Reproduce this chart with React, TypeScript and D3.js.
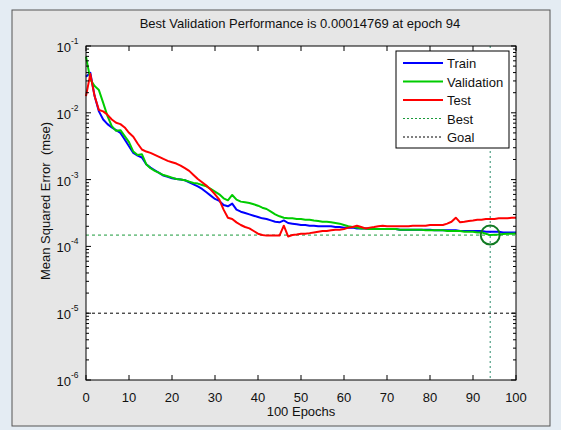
import React from "react";
import * as d3 from "d3";

const epochs: number[] = Array.from({ length: 101 }, (_, i) => i);

const trainMse: number[] = [
  3.47e-2, 3.98e-2, 1.78e-2, 1.05e-2, 7.94e-3, 6.76e-3, 6.03e-3, 5.5e-3, 5.01e-3, 3.98e-3,
  3.16e-3, 2.51e-3, 2.29e-3, 2.14e-3, 1.7e-3, 1.51e-3, 1.38e-3, 1.26e-3, 1.15e-3, 1.1e-3,
  1.05e-3, 1.02e-3, 1.0e-3, 9.77e-4, 9.12e-4, 8.51e-4, 7.94e-4, 7.24e-4, 6.46e-4, 5.75e-4,
  5.13e-4, 4.79e-4, 4.17e-4, 3.98e-4, 4.37e-4, 3.55e-4, 3.31e-4, 3.16e-4, 3.02e-4, 2.88e-4,
  2.75e-4, 2.63e-4, 2.57e-4, 2.45e-4, 2.34e-4, 2.29e-4, 2.45e-4, 2.24e-4, 2.19e-4, 2.14e-4,
  2.09e-4, 2.09e-4, 2.04e-4, 2.04e-4, 2.0e-4, 2.0e-4, 2.0e-4, 2.0e-4, 1.95e-4, 1.95e-4,
  1.91e-4, 1.91e-4, 1.91e-4, 1.86e-4, 1.86e-4, 1.86e-4, 1.82e-4, 1.82e-4, 1.82e-4, 1.82e-4,
  1.82e-4, 1.82e-4, 1.82e-4, 1.78e-4, 1.78e-4, 1.78e-4, 1.78e-4, 1.78e-4, 1.78e-4, 1.78e-4,
  1.78e-4, 1.74e-4, 1.74e-4, 1.74e-4, 1.74e-4, 1.74e-4, 1.74e-4, 1.7e-4, 1.7e-4, 1.7e-4,
  1.7e-4, 1.7e-4, 1.7e-4, 1.66e-4, 1.66e-4, 1.66e-4, 1.66e-4, 1.62e-4, 1.62e-4, 1.62e-4,
  1.62e-4,
];

const validationMse: number[] = [
  6.92e-2, 3.16e-2, 2.51e-2, 2.19e-2, 1.41e-2, 8.91e-3, 6.31e-3, 5.37e-3, 5.5e-3, 4.47e-3,
  3.63e-3, 2.63e-3, 2.34e-3, 2.4e-3, 1.7e-3, 1.48e-3, 1.35e-3, 1.26e-3, 1.17e-3, 1.12e-3,
  1.07e-3, 1.02e-3, 1.0e-3, 9.77e-4, 9.33e-4, 8.91e-4, 8.71e-4, 8.32e-4, 7.94e-4, 7.24e-4,
  6.61e-4, 6.03e-4, 5.25e-4, 4.9e-4, 5.89e-4, 5.01e-4, 4.68e-4, 4.57e-4, 4.47e-4, 4.27e-4,
  4.07e-4, 3.8e-4, 3.63e-4, 3.31e-4, 3.02e-4, 2.82e-4, 2.69e-4, 2.63e-4, 2.63e-4, 2.57e-4,
  2.57e-4, 2.51e-4, 2.51e-4, 2.45e-4, 2.4e-4, 2.34e-4, 2.34e-4, 2.29e-4, 2.24e-4, 2.19e-4,
  2.09e-4, 2.0e-4, 1.95e-4, 1.91e-4, 1.86e-4, 1.86e-4, 1.82e-4, 1.82e-4, 1.82e-4, 1.82e-4,
  1.82e-4, 1.82e-4, 1.82e-4, 1.78e-4, 1.78e-4, 1.78e-4, 1.78e-4, 1.78e-4, 1.78e-4, 1.74e-4,
  1.74e-4, 1.74e-4, 1.74e-4, 1.74e-4, 1.7e-4, 1.7e-4, 1.7e-4, 1.7e-4, 1.66e-4, 1.66e-4,
  1.66e-4, 1.62e-4, 1.62e-4, 1.55e-4, 1.4769e-4, 1.5e-4, 1.51e-4, 1.53e-4, 1.54e-4, 1.55e-4,
  1.56e-4,
];

const testMse: number[] = [
  1.78e-2, 3.8e-2, 1.78e-2, 1.1e-2, 1.05e-2, 9.33e-3, 7.94e-3, 7.08e-3, 6.76e-3, 6.03e-3,
  5.01e-3, 4.37e-3, 3.47e-3, 2.82e-3, 2.63e-3, 2.51e-3, 2.34e-3, 2.19e-3, 2.04e-3, 1.91e-3,
  1.82e-3, 1.74e-3, 1.62e-3, 1.48e-3, 1.35e-3, 1.17e-3, 1.02e-3, 9.12e-4, 8.13e-4, 7.08e-4,
  6.03e-4, 5.01e-4, 3.55e-4, 2.69e-4, 2.57e-4, 2.29e-4, 2.09e-4, 1.95e-4, 1.86e-4, 1.7e-4,
  1.55e-4, 1.48e-4, 1.45e-4, 1.45e-4, 1.45e-4, 1.45e-4, 2.04e-4, 1.41e-4, 1.48e-4, 1.51e-4,
  1.55e-4, 1.55e-4, 1.58e-4, 1.62e-4, 1.66e-4, 1.7e-4, 1.7e-4, 1.74e-4, 1.78e-4, 1.78e-4,
  1.82e-4, 1.91e-4, 1.95e-4, 2.04e-4, 1.95e-4, 1.86e-4, 1.91e-4, 1.95e-4, 2.0e-4, 2.04e-4,
  2.0e-4, 2.0e-4, 2.0e-4, 2.0e-4, 2.0e-4, 2.0e-4, 2.04e-4, 2.04e-4, 2.04e-4, 2.04e-4,
  2.09e-4, 2.09e-4, 2.09e-4, 2.09e-4, 2.19e-4, 2.34e-4, 2.69e-4, 2.29e-4, 2.34e-4, 2.4e-4,
  2.45e-4, 2.51e-4, 2.51e-4, 2.57e-4, 2.57e-4, 2.57e-4, 2.63e-4, 2.63e-4, 2.63e-4, 2.69e-4,
  2.69e-4,
];

const bestEpoch = 94;
const bestPerf = 1.4769e-4;
const goalPerf = 1e-5;
const xTicks: number[] = [0, 10, 20, 30, 40, 50, 60, 70, 80, 90, 100];
const yExponents: number[] = [-1, -2, -3, -4, -5, -6];
const titleText = "Best Validation Performance is 0.00014769 at epoch 94";
const xLabel = "100 Epochs";
const yLabel = "Mean Squared Error  (mse)";
const legendItems = [
  { name: "Train", color: "#0000ff", dash: "" },
  { name: "Validation", color: "#00cc00", dash: "" },
  { name: "Test", color: "#ff0000", dash: "" },
  { name: "Best", color: "#1a9a3a", dash: "2,2" },
  { name: "Goal", color: "#000000", dash: "2,2" },
];

const W = 561;
const H = 430;
const L = 86, R = 516, T = 46, B = 380;
const FONT = "'Liberation Sans', Arial, sans-serif";
const FS = 13;

export default function App() {
  const x = d3.scaleLinear().domain([0, 100]).range([L, R]);
  const y = d3.scaleLog().domain([1e-6, 1e-1]).range([B, T]);
  const line = d3
    .line<number>()
    .x((_, i) => x(epochs[i]))
    .y((d) => y(d));

  const minorTicks: number[] = [];
  for (let e = -6; e < -1; e++) {
    for (let m = 2; m <= 9; m++) minorTicks.push(m * Math.pow(10, e));
  }

  const series = [
    { data: trainMse, color: "#0000ff" },
    { data: validationMse, color: "#00cc00" },
    { data: testMse, color: "#ff0000" },
  ];

  return (
    <svg
      width={W}
      height={H}
      style={{ position: "absolute", left: 0, top: 0, display: "block" }}
      fontFamily={FONT}
    >
      <rect x={0} y={0} width={W} height={H} fill="#e4ecf3" />
      <rect x={12} y={10} width={538} height={416} fill="#e6e6e6" stroke="#555" strokeWidth={1} />
      <rect x={L} y={T} width={R - L} height={B - T} fill="#ffffff" />

      <line x1={L} x2={R} y1={y(goalPerf)} y2={y(goalPerf)} stroke="#000" strokeWidth={1} strokeDasharray="3,3" />
      <line x1={L} x2={R} y1={y(bestPerf)} y2={y(bestPerf)} stroke="#1a9a3a" strokeWidth={1} strokeDasharray="3,3" />
      <line x1={x(bestEpoch)} x2={x(bestEpoch)} y1={T} y2={B} stroke="#2a8a6a" strokeWidth={1} strokeDasharray="2,3" />

      {series.map((s, i) => (
        <path key={i} d={line(s.data) || ""} fill="none" stroke={s.color} strokeWidth={2} strokeLinejoin="round" />
      ))}

      <circle cx={x(bestEpoch)} cy={y(bestPerf)} r={9.5} fill="none" stroke="#107a22" strokeWidth={2} />

      <rect x={L} y={T} width={R - L} height={B - T} fill="none" stroke="#000" strokeWidth={1} />

      {xTicks.map((t) => (
        <g key={"x" + t}>
          <line x1={x(t)} x2={x(t)} y1={B} y2={B - 5} stroke="#000" />
          <line x1={x(t)} x2={x(t)} y1={T} y2={T + 5} stroke="#000" />
          <text x={x(t)} y={402} textAnchor="middle" fontSize={FS} fill="#111">
            {t}
          </text>
        </g>
      ))}

      {yExponents.map((e) => (
        <g key={"y" + e}>
          <line x1={L} x2={L + 5} y1={y(Math.pow(10, e))} y2={y(Math.pow(10, e))} stroke="#000" />
          <line x1={R} x2={R - 5} y1={y(Math.pow(10, e))} y2={y(Math.pow(10, e))} stroke="#000" />
          <text x={71} y={y(Math.pow(10, e)) + 6} textAnchor="end" fontSize={FS} fill="#111">
            10
          </text>
          <text x={71} y={y(Math.pow(10, e)) - 2} textAnchor="start" fontSize={8.5} fill="#111">
            {e}
          </text>
        </g>
      ))}
      {minorTicks.map((v, i) => (
        <g key={"m" + i}>
          <line x1={L} x2={L + 3} y1={y(v)} y2={y(v)} stroke="#000" />
          <line x1={R} x2={R - 3} y1={y(v)} y2={y(v)} stroke="#000" />
        </g>
      ))}

      <text x={(L + R) / 2 - 1} y={28} textAnchor="middle" fontSize={FS} fill="#111">
        {titleText}
      </text>
      <text x={(L + R) / 2} y={416} textAnchor="middle" fontSize={FS} fill="#111">
        {xLabel}
      </text>
      <text
        transform={`translate(50,201) rotate(-90)`}
        textAnchor="middle"
        fontSize={FS}
        fill="#111"
        style={{ whiteSpace: "pre" }}
      >
        {yLabel}
      </text>

      <rect x={396} y={51} width={113} height={97} fill="#fff" stroke="#000" strokeWidth={1} />
      {legendItems.map((it, i) => {
        const ly = 63 + i * 18.5;
        return (
          <g key={it.name}>
            <line
              x1={403}
              x2={443}
              y1={ly}
              y2={ly}
              stroke={it.color}
              strokeWidth={it.dash ? 1 : 2}
              strokeDasharray={it.dash || undefined}
            />
            <text x={447} y={ly + 5} fontSize={FS} fill="#111">
              {it.name}
            </text>
          </g>
        );
      })}
    </svg>
  );
}
